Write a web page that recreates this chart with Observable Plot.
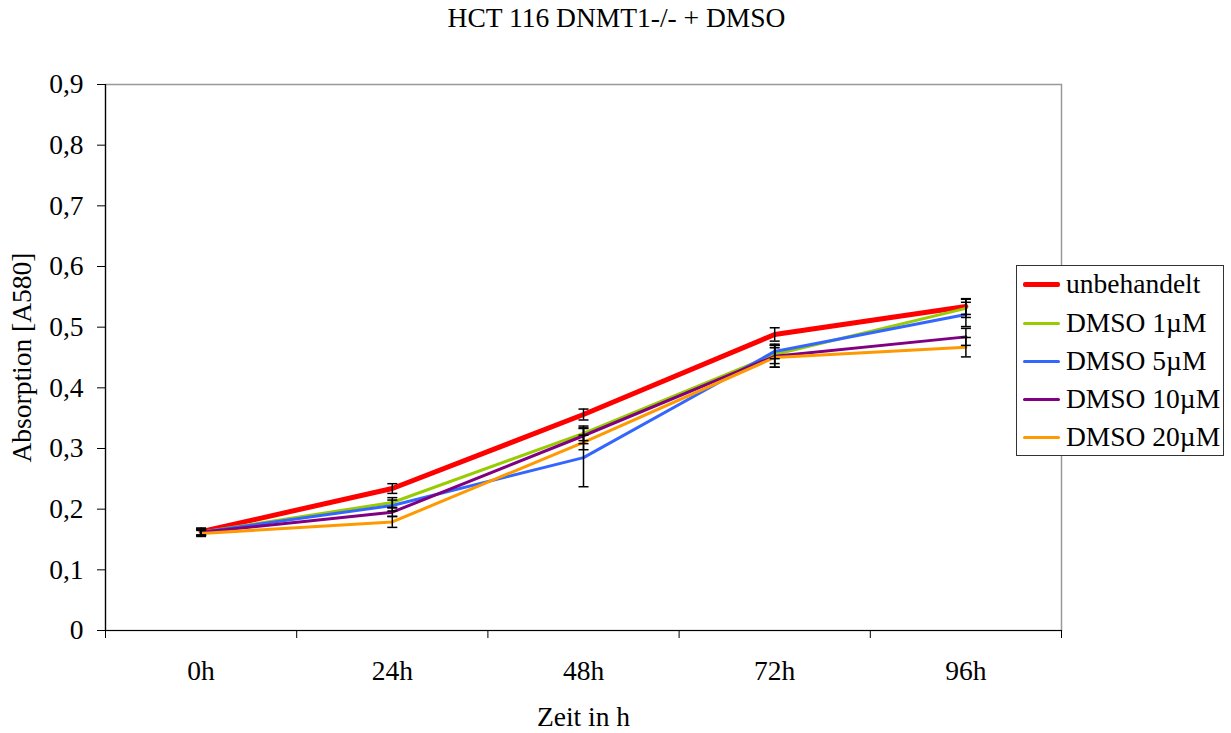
<!DOCTYPE html>
<html><head><meta charset="utf-8">
<script src="https://cdn.jsdelivr.net/npm/d3@7"></script>
<script src="https://cdn.jsdelivr.net/npm/@observablehq/plot@0.6"></script>
<style>
body{margin:0;background:#fff;font-family:"Liberation Serif",serif;}
#wrap{position:relative;width:1231px;height:733px;overflow:hidden;}
#legend{position:absolute;left:1016px;top:265px;width:208px;height:191px;border:1px solid #333;background:#fff;box-sizing:border-box;}
.row{position:absolute;left:0;height:38px;display:flex;align-items:center;font-size:27.5px;color:#000;white-space:nowrap;font-family:"Liberation Serif",serif;}
.sw{width:37px;margin-left:6px;margin-right:6px;border-radius:2px;}
</style></head>
<body>
<div id="wrap"><div id="chart"></div><div id="legend"></div></div>
<script>
const title = "HCT 116 DNMT1-/- + DMSO";
const xTitle = "Zeit in h";
const yTitle = "Absorption [A580]";
const hours = [0, 24, 48, 72, 96];
const hourLabels = ["0h", "24h", "48h", "72h", "96h"];
const yTicks = [0, 0.1, 0.2, 0.3, 0.4, 0.5, 0.6, 0.7, 0.8, 0.9];
const seriesNames = ["unbehandelt", "DMSO 1µM", "DMSO 5µM", "DMSO 10µM", "DMSO 20µM"];
const seriesColors = ["#ff0000", "#99cc00", "#3366ff", "#800080", "#ff9900"];
const seriesWidths = [5, 3, 3, 3, 3];

const unbehandelt = [0.163, 0.234, 0.356, 0.488, 0.534];
const dmso1 = [0.162, 0.211, 0.325, 0.455, 0.531];
const dmso5 = [0.162, 0.206, 0.285, 0.460, 0.521];
const dmso10 = [0.162, 0.195, 0.321, 0.452, 0.484];
const dmso20 = [0.160, 0.179, 0.310, 0.450, 0.467];

const errUnbehandelt = [0.006, 0.008, 0.009, 0.011, 0.013];
const errDmso1 = [0.005, 0.008, 0.012, 0.015, 0.015];
const errDmso5 = [0.005, 0.009, 0.048, 0.012, 0.020];
const errDmso10 = [0.005, 0.007, 0.013, 0.018, 0.014];
const errDmso20 = [0.005, 0.009, 0.012, 0.016, 0.016];

const values = [unbehandelt, dmso1, dmso5, dmso10, dmso20];
const errors = [errUnbehandelt, errDmso1, errDmso5, errDmso10, errDmso20];

const rows = [];
seriesNames.forEach((s, i) => hours.forEach((h, j) => rows.push({series: s, idx: i, h, v: values[i][j], e: errors[i][j]})));

const capSymbol = {draw(ctx, size) { const r = Math.sqrt(size / Math.PI); ctx.moveTo(-r, 0); ctx.lineTo(r, 0); }};
const fmtY = d => d === 0 ? "0" : d3.format(".1f")(d).replace(".", ",");
const step = hours[1] - hours[0];
const xDomain = [hours[0] - step / 2, hours[hours.length - 1] + step / 2];
const boundaries = [xDomain[0], ...hours.map(h => h + step / 2)];
const FS = 27.5;

const marks = [
  Plot.frame({stroke: "#999", strokeWidth: 1.5}),
  Plot.axisY({ticks: yTicks, tickSize: 8, tickPadding: 14, tickFormat: fmtY, label: null, fontSize: FS}),
  Plot.axisX({ticks: hours, tickSize: 0, tickPadding: 30, tickFormat: d => hourLabels[hours.indexOf(d)], label: null, fontSize: FS}),
  Plot.axisX({ticks: boundaries, tickSize: 8, tickFormat: () => "", label: null}),
  Plot.ruleX([xDomain[0]], {stroke: "black", strokeWidth: 1.2}),
  Plot.ruleY([0], {stroke: "black", strokeWidth: 1.2}),
];
seriesNames.forEach((s, i) => {
  marks.push(Plot.line(rows.filter(r => r.idx === i), {x: "h", y: "v", stroke: seriesColors[i], strokeWidth: seriesWidths[i], strokeLinejoin: "miter"}));
});
marks.push(
  Plot.ruleX(rows, {x: "h", y1: d => d.v - d.e, y2: d => d.v + d.e, stroke: "black", strokeWidth: 1.5}),
  Plot.dot(rows, {x: "h", y: d => d.v - d.e, symbol: capSymbol, r: 5, stroke: "black", strokeWidth: 1.5, fill: "none"}),
  Plot.dot(rows, {x: "h", y: d => d.v + d.e, symbol: capSymbol, r: 5, stroke: "black", strokeWidth: 1.5, fill: "none"}),
  Plot.text([title], {frameAnchor: "top", dy: -66, dx: 33, fontSize: FS, lineAnchor: "middle", textAnchor: "middle"}),
  Plot.text([xTitle], {frameAnchor: "bottom", dy: 87, fontSize: FS, lineAnchor: "middle", textAnchor: "middle"}),
  Plot.text([yTitle], {frameAnchor: "left", dx: -83, rotate: -90, fontSize: FS, lineAnchor: "middle", textAnchor: "middle"})
);

const chart = Plot.plot({
  width: 1231,
  height: 733,
  marginLeft: 105,
  marginRight: 170,
  marginTop: 84,
  marginBottom: 103,
  style: {fontFamily: '"Liberation Serif", serif', fontSize: FS + "px", color: "black", background: "white", overflow: "visible"},
  x: {domain: xDomain, type: "linear"},
  y: {domain: [0, 0.9]},
  marks
});
document.getElementById("chart").appendChild(chart);

const rowCenters = [284, 323, 361, 399, 437];
const legend = document.getElementById("legend");
seriesNames.forEach((s, i) => {
  const row = document.createElement("div");
  row.className = "row";
  row.style.top = (rowCenters[i] - 266 - 19) + "px";
  const sw = document.createElement("span");
  sw.className = "sw";
  sw.style.height = (i === 0 ? 5 : 3) + "px";
  sw.style.background = seriesColors[i];
  const t = document.createElement("span");
  t.textContent = s;
  row.appendChild(sw); row.appendChild(t);
  legend.appendChild(row);
});
</script>
</body></html>
